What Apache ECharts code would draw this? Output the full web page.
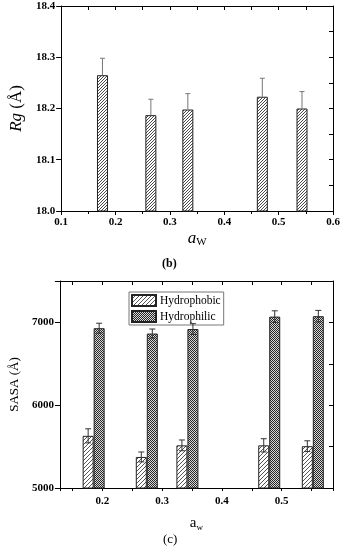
<!DOCTYPE html>
<html><head><meta charset="utf-8">
<script src="https://cdn.jsdelivr.net/npm/echarts@6/dist/echarts.min.js"></script>
<style>html,body{margin:0;padding:0;background:#fff}#c{width:344px;height:550px}</style>
</head><body><div id="c"></div>
<script>
// ---- data ----
const awValues = [0.176, 0.265, 0.333, 0.470, 0.543];
const rgValues = [18.265, 18.187, 18.198, 18.223, 18.200];
const rgErrors = [0.033, 0.031, 0.031, 0.036, 0.033];
const hydrophobicValues = [5630, 5375, 5515, 5515, 5505];
const hydrophobicErrors = [85, 60, 65, 80, 65];
const hydrophilicValues = [6930, 6865, 6920, 7070, 7075];
const hydrophilicErrors = [60, 55, 65, 70, 70];
const rgTicks = [18.0, 18.1, 18.2, 18.3, 18.4];
const topXTicks = [0.1, 0.2, 0.3, 0.4, 0.5, 0.6];
const sasaTicks = [5000, 6000, 7000];
const bottomXTicks = [0.2, 0.3, 0.4, 0.5];
const bottomXRange = [0.1287, 0.586];
const sasaMax = 7500;

const SERIF = 'Liberation Serif';
const BAR_W = 11;

function pattern(kind) {
  const c = document.createElement('canvas');
  if (kind === 'checker') {
    c.width = c.height = 2;
    const g = c.getContext('2d');
    g.fillStyle = '#d8d8d8'; g.fillRect(0, 0, 2, 2);
    g.fillStyle = '#262626'; g.fillRect(0, 0, 1, 1); g.fillRect(1, 1, 1, 1);
    return { image: c, repeat: 'repeat' };
  }
  const s = kind === 'fine' ? 3 : 4;
  c.width = c.height = s;
  const g = c.getContext('2d');
  g.fillStyle = '#fff'; g.fillRect(0, 0, s, s);
  g.lineWidth = 1;
  g.strokeStyle = kind === 'fine' ? '#4a4a4a' : '#555';
  for (let k = -1; k <= 1; k++) {
    g.beginPath();
    g.moveTo(-1 + k * s, s + 1); g.lineTo(s + 1 + k * s, -1);
    g.stroke();
  }
  return { image: c, repeat: 'repeat' };
}

function errRender(offset, capHalf, both, color) {
  return function (params, api) {
    const x = api.value(0), v = api.value(1), e = api.value(2);
    const pTop = api.coord([x, v + e]);
    const pBase = api.coord([x, both ? v - e : v]);
    const cx = pTop[0] + offset;
    const st = { stroke: color, lineWidth: 1 };
    const ch = [
      { type: 'line', shape: { x1: cx, y1: pBase[1], x2: cx, y2: pTop[1] }, style: st },
      { type: 'line', shape: { x1: cx - capHalf, y1: pTop[1], x2: cx + capHalf, y2: pTop[1] }, style: st }
    ];
    if (both) ch.push({ type: 'line', shape: { x1: cx - capHalf, y1: pBase[1], x2: cx + capHalf, y2: pBase[1] }, style: st });
    return { type: 'group', children: ch };
  };
}

const lineStyle = { color: '#000', width: 1 };
const labelStyle = { fontFamily: SERIF, fontWeight: 'bold', fontSize: 11, color: '#000' };
const near = (v, arr) => arr.some(t => Math.abs(t - v) < 1e-6);

const chart = echarts.init(document.getElementById('c'), null, { renderer: 'canvas' });
chart.setOption({
  animation: false,
  backgroundColor: '#fff',
  grid: [
    { left: 55, top: 6, width: 278, height: 205 },
    { left: 54, top: 281, width: 279, height: 207 }
  ],
  legend: {
    data: ['Hydrophobic', 'Hydrophilic'],
    orient: 'vertical', left: 129, top: 292,
    icon: 'rect', itemWidth: 24, itemHeight: 11, itemGap: 3,
    borderColor: '#777', borderWidth: 1, padding: [2, 3, 2, 2],
    textStyle: { fontFamily: SERIF, fontSize: 11.5, color: '#000', padding: [0, 0, 0, -1] }
  },
  xAxis: [
    { type: 'value', gridIndex: 0, position: 'bottom', min: topXTicks[0], max: topXTicks[topXTicks.length - 1], interval: 0.1,
      axisLine: { lineStyle }, axisTick: { inside: false, length: 4, lineStyle },
      minorTick: { show: true, splitNumber: 2, length: 3, lineStyle },
      splitLine: { show: false },
      axisLabel: { ...labelStyle, margin: 6, formatter: v => near(v, topXTicks) ? v.toFixed(1) : '' },
      name: '{a|a}{s|W}', nameLocation: 'middle', nameGap: 18,
      nameTextStyle: { color: '#000', rich: {
        a: { fontFamily: SERIF, fontStyle: 'italic', fontSize: 17, color: '#000' },
        s: { fontFamily: SERIF, fontSize: 11, color: '#000', padding: [8, 0, 0, 0] } } } },
    { type: 'value', gridIndex: 0, position: 'top', min: topXTicks[0], max: topXTicks[topXTicks.length - 1], interval: 0.05,
      axisLine: { lineStyle }, axisTick: { inside: true, length: 4, lineStyle },
      splitLine: { show: false }, axisLabel: { show: false } },
    { type: 'value', gridIndex: 1, position: 'bottom', min: bottomXRange[0], max: bottomXRange[1], splitNumber: 9,
      axisLine: { lineStyle }, axisTick: { inside: false, length: 3, lineStyle },
      splitLine: { show: false },
      axisLabel: { ...labelStyle, margin: 8, showMinLabel: true, showMaxLabel: true, formatter: v => near(v, bottomXTicks) ? v.toFixed(1) : '' },
      name: '{a|a}{s|w}', nameLocation: 'middle', nameGap: 27,
      nameTextStyle: { color: '#000', rich: {
        a: { fontFamily: SERIF, fontSize: 15, color: '#000' },
        s: { fontFamily: SERIF, fontSize: 9, color: '#000', padding: [8, 0, 0, 0] } } } },
    { type: 'value', gridIndex: 1, position: 'top', min: bottomXRange[0], max: bottomXRange[1], splitNumber: 9,
      axisLine: { lineStyle }, axisTick: { inside: true, length: 4, lineStyle },
      splitLine: { show: false }, axisLabel: { show: false } }
  ],
  yAxis: [
    { type: 'value', gridIndex: 0, position: 'left', min: rgTicks[0], max: rgTicks[rgTicks.length - 1], interval: 0.1,
      axisLine: { show: true, lineStyle }, axisTick: { show: true, inside: false, length: 5, lineStyle },
      splitLine: { show: false },
      axisLabel: { ...labelStyle, margin: 6, formatter: v => v.toFixed(1) },
      name: '{i|Rg} (Å)', nameLocation: 'middle', nameGap: 34, nameRotate: 90,
      nameTextStyle: { fontFamily: SERIF, fontSize: 17, color: '#000', rich: {
        i: { fontFamily: SERIF, fontStyle: 'italic', fontSize: 17, color: '#000' } } } },
    { type: 'value', gridIndex: 0, position: 'right', min: rgTicks[0], max: rgTicks[rgTicks.length - 1], interval: 0.05,
      axisLine: { show: true, lineStyle }, axisTick: { show: true, inside: true, length: 4, lineStyle },
      splitLine: { show: false }, axisLabel: { show: false } },
    { type: 'value', gridIndex: 1, position: 'left', min: sasaTicks[0], max: sasaMax, interval: 1000,
      axisLine: { show: true, lineStyle }, axisTick: { show: true, inside: false, length: 5, lineStyle },
      splitLine: { show: false },
      axisLabel: { ...labelStyle, margin: 6, formatter: v => near(v, sasaTicks) ? String(v) : '' },
      name: 'SASA (Å)', nameLocation: 'middle', nameGap: 38, nameRotate: 90,
      nameTextStyle: { fontFamily: SERIF, fontSize: 13, color: '#000' } },
    { type: 'value', gridIndex: 1, position: 'right', min: sasaTicks[0], max: sasaMax, interval: 500,
      axisLine: { show: true, lineStyle }, axisTick: { show: true, inside: true, length: 4, lineStyle },
      splitLine: { show: false }, axisLabel: { show: false } }
  ],
  graphic: [
    { type: 'text', left: 162, top: 258, style: { text: '(b)', font: 'bold 12px "Liberation Serif"', fill: '#000' } },
    { type: 'text', left: 163, top: 533, style: { text: '(c)', font: '13px "Liberation Serif"', fill: '#000' } }
  ],
  series: [
    { type: 'bar', name: 'Rg', xAxisIndex: 0, yAxisIndex: 0, barWidth: BAR_W,
      data: awValues.map((x, i) => [x, rgValues[i]]),
      itemStyle: { color: pattern('fine'), borderColor: '#222', borderWidth: 1 } },
    { type: 'custom', xAxisIndex: 0, yAxisIndex: 0, z: 5,
      data: awValues.map((x, i) => [x, rgValues[i], rgErrors[i]]),
      renderItem: errRender(0, 2.5, false, '#777') },
    { type: 'bar', name: '_slot', xAxisIndex: 2, yAxisIndex: 2, barWidth: BAR_W, barGap: 0,
      data: awValues.map(x => [x, null]) },
    { type: 'bar', name: 'Hydrophobic', xAxisIndex: 2, yAxisIndex: 2, barWidth: BAR_W, barGap: 0,
      data: awValues.map((x, i) => [x, hydrophobicValues[i]]),
      itemStyle: { color: pattern('diag'), borderColor: '#222', borderWidth: 1 } },
    { type: 'bar', name: 'Hydrophilic', xAxisIndex: 2, yAxisIndex: 2, barWidth: BAR_W, barGap: 0,
      data: awValues.map((x, i) => [x, hydrophilicValues[i]]),
      itemStyle: { color: pattern('checker'), borderColor: '#222', borderWidth: 1 } },
    { type: 'custom', xAxisIndex: 2, yAxisIndex: 2, z: 5,
      data: awValues.map((x, i) => [x, hydrophobicValues[i], hydrophobicErrors[i]]),
      renderItem: errRender(0, 3, true, '#333') },
    { type: 'custom', xAxisIndex: 2, yAxisIndex: 2, z: 5,
      data: awValues.map((x, i) => [x, hydrophilicValues[i], hydrophilicErrors[i]]),
      renderItem: errRender(BAR_W, 3, true, '#333') }
  ]
});
</script></body></html>
